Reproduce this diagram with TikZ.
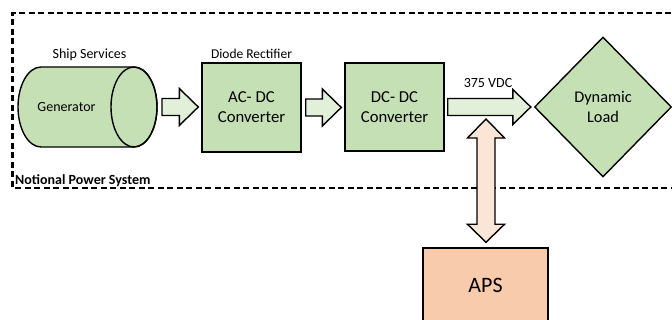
\documentclass[tikz,border=0pt]{standalone}
\usepackage{fontspec}
\setmainfont{Carlito}
\usetikzlibrary{shapes.geometric,calc}
\definecolor{blockgreen}{HTML}{C5E0B4}
\definecolor{arrowgreen}{HTML}{E2F0D9}
\definecolor{blockpeach}{HTML}{F8CBAD}
\definecolor{arrowpeach}{HTML}{FBE5D6}

% horizontal block arrow: style, tail, tip, head length, head half-width
\newcommand\hblockarrow[5]{%
  \path[#1] let \p1=(#2), \p2=(#3) in
    (\x1,\y1+8.5) -- (\x2-#4,\y1+8.5) -- (\x2-#4,\y1+#5) -- (\x2,\y1)
    -- (\x2-#4,\y1-#5) -- (\x2-#4,\y1-8.5) -- (\x1,\y1-8.5) -- cycle;}

\begin{document}
\begin{tikzpicture}[x=1pt,y=1pt,
  outline/.style={draw=black,line width=1.4pt,line join=miter},
  block/.style={outline,fill=blockgreen,inner sep=0pt,align=center,
    font=\fontsize{16.7}{20}\selectfont},
  flow/.style={outline,fill=arrowgreen},
  label/.style={font=\fontsize{14}{16}\selectfont,inner sep=0pt},
  boundary/.style={line width=2.2pt,dash pattern=on 6pt off 3.5pt}]
\useasboundingbox (0,0) rectangle (672,320);
\clip (0,0) rectangle (672,320);

% notional power system boundary
\draw[boundary] (690,307) -- (12.5,307) -- (12.5,132) -- (690,132);
\node[label,font=\fontsize{14}{16}\bfseries,anchor=west] (nps) at (15,139) {Notional Power System};

% generator drawn as a horizontal cylinder
\filldraw[outline,fill=blockgreen] (134,253) -- (41,253)
  arc[start angle=90,end angle=270,x radius=23,y radius=40] -- (134,173)
  arc[start angle=-90,end angle=90,x radius=23,y radius=40] -- cycle;
\draw[outline] (134,213) ellipse[x radius=23,y radius=40];
\coordinate (genend) at (157,213);
\node[label] (gen) at (66.5,213) {Generator};
\node[label] (ship) at (89.5,265) {Ship Services};

% converters and load
\node[block,minimum width=99,minimum height=89] (acdc) at (251.5,212.5) {AC- DC\\Converter};
\node[label,font=\fontsize{13.5}{16}\selectfont] (diode) at (251.5,266) {Diode Rectifier};
\node[block,minimum width=99,minimum height=88] (dcdc) at (394.5,213) {DC- DC\\Converter};
\node[block,diamond,minimum width=137,minimum height=140,
  font=\fontsize{16.3}{19.5}\selectfont] (load) at (603,213) {Dynamic\\Load};
\node[label] (vdc) at (488,237) {375 VDC};

% power flow arrows
\hblockarrow{flow}{$(genend)+(5,0)$}{$(acdc.west)+(-3,0)$}{19}{18.5}
\hblockarrow{flow}{$(acdc.east)+(4,0)$}{$(dcdc.west)+(-3,0)$}{19}{18.5}
\hblockarrow{flow}{$(dcdc.east)+(3,0)$}{$(load.west)+(-3,0)$}{18}{17.5}
\coordinate (bus) at (486,204);

% auxiliary power system and its bidirectional link
\node[outline,fill=blockpeach,minimum width=125,minimum height=75,inner sep=0pt,
  font=\fontsize{22}{26}\selectfont] (aps) at (485.5,34.5) {APS};
\path[outline,fill=arrowpeach] let \p1=($(aps.north)+(0.5,5)$), \p2=($(bus)+(0,-3)$) in
  (\x1,\y2) -- (\x1+18.5,\y2-19) -- (\x1+9,\y2-19) -- (\x1+9,\y1+18)
  -- (\x1+18.5,\y1+18) -- (\x1,\y1) -- (\x1-18.5,\y1+18) -- (\x1-9,\y1+18)
  -- (\x1-9,\y2-19) -- (\x1-18.5,\y2-19) -- cycle;
\end{tikzpicture}
\end{document}
